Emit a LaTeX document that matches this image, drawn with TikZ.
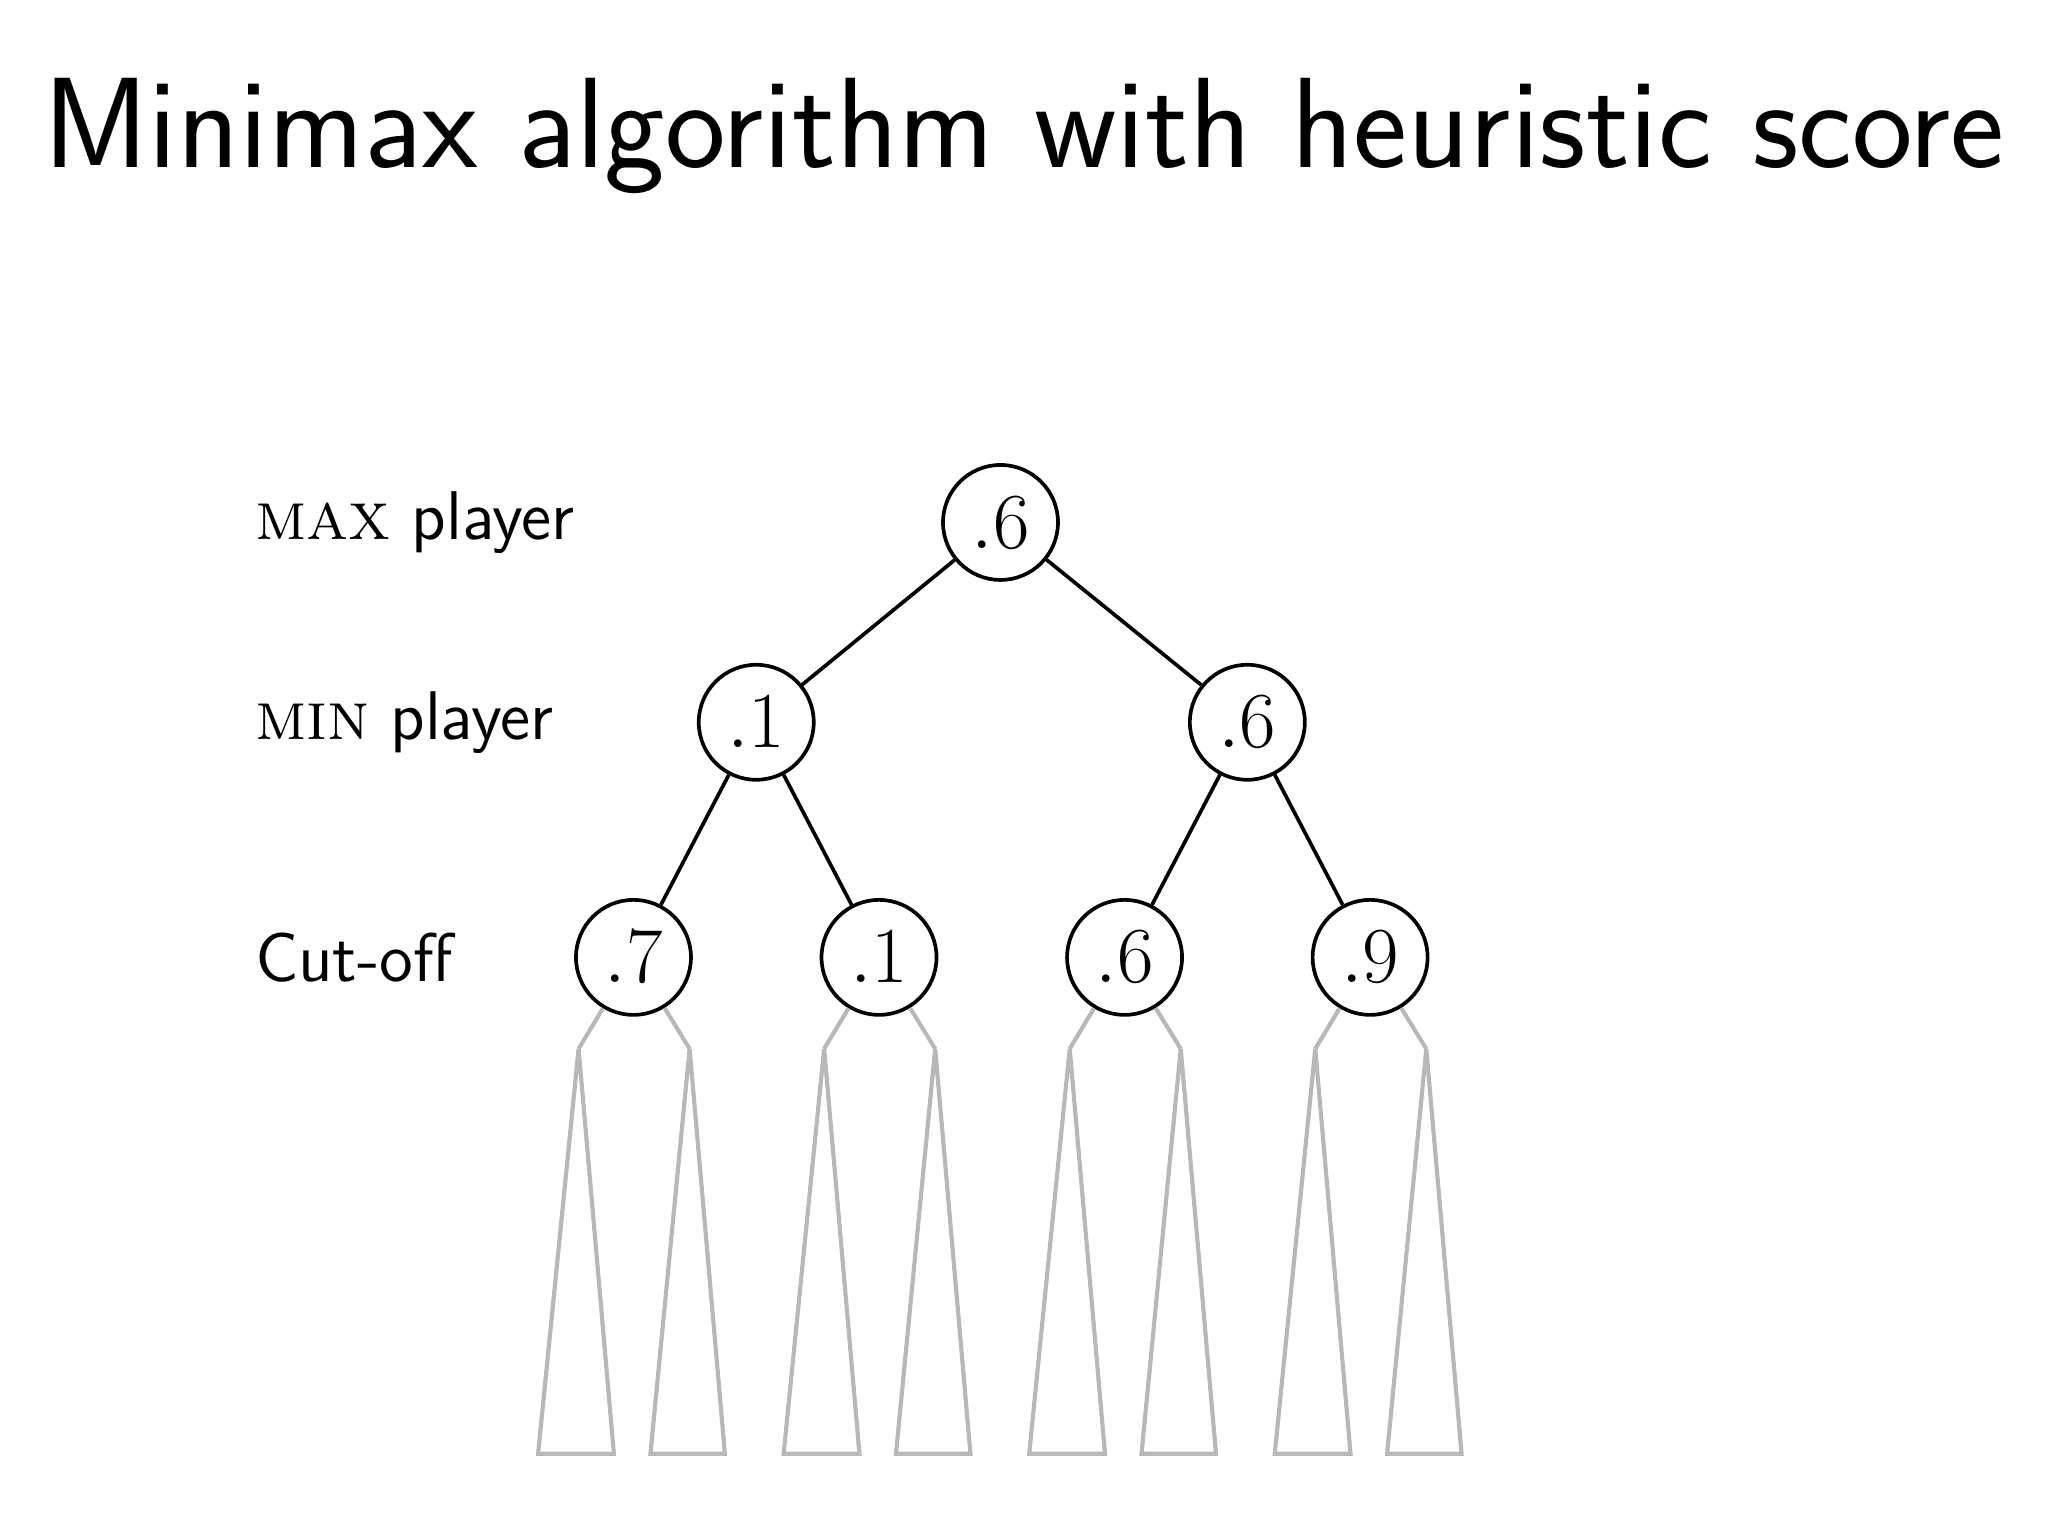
\documentclass[tikz,border=0pt]{standalone}
\usepackage{fontspec}
\begin{document}
\begin{tikzpicture}[x=0.01cm,y=-0.01cm,
  val/.style={draw,circle,line width=0.8pt,minimum size=0.88cm,inner sep=0pt,font=\fontsize{16}{19}\selectfont},
  lbl/.style={anchor=west,font=\fontsize{15}{18}\selectfont},
  edge/.style={line width=0.8pt},
  sub/.style={draw=black!28,line width=0.9pt,line join=miter}]
\useasboundingbox (0,0) rectangle (1568,1176);
\node[anchor=base,font=\sffamily\fontsize{28}{34}\selectfont] (title) at (784,128) {Minimax algorithm with heuristic score};
\node[lbl] (lmax) at (183,400) {\textsc{max} \sffamily player};
\node[lbl] (lmin) at (183,553) {\textsc{min} \sffamily player};
\node[lbl] (lcut) at (183,733) {\sffamily Cut-off};
\node[val] (r) at (766,400) {$.6$};
\node[val] (a) at (579,553) {$.1$};
\node[val] (b) at (955,553) {$.6$};
\node[val] (c1) at (485,733) {$.7$};
\node[val] (c2) at (673,733) {$.1$};
\node[val] (c3) at (861,733) {$.6$};
\node[val] (c4) at (1049,733) {$.9$};
\draw[edge] (r)--(a); \draw[edge] (r)--(b);
\draw[edge] (a)--(c1); \draw[edge] (a)--(c2);
\draw[edge] (b)--(c3); \draw[edge] (b)--(c4);
\foreach \n/\cx in {c1/485,c2/673,c3/861,c4/1049}{
  \coordinate (\n L) at (\cx-42,803);
  \coordinate (\n R) at (\cx+43,803);
  \draw[sub] (\n) -- (\n L);
  \draw[sub] (\n) -- (\n R);
  \draw[sub] (\n L) -- (\cx-15,1113) -- (\cx-73,1113) -- cycle;
  \draw[sub] (\n R) -- (\cx+70,1113) -- (\cx+13,1113) -- cycle;
}
\end{tikzpicture}
\end{document}
